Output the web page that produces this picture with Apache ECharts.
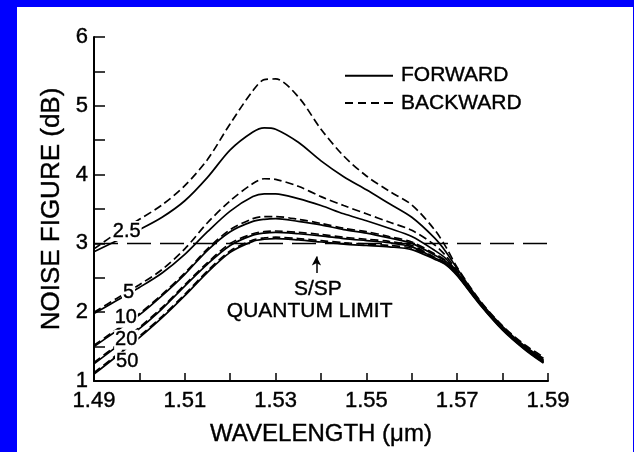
<!DOCTYPE html>
<html>
<head>
<meta charset="utf-8">
<script src="https://cdn.jsdelivr.net/npm/echarts@6/dist/echarts.min.js"></script>
<style>
  html, body { margin: 0; padding: 0; background: #0000ff; }
  #panel { position: absolute; left: 17px; top: 7px; width: 616px; height: 445px; background: #ffffff; }
  #main { position: absolute; left: 0; top: 0; width: 634px; height: 452px; }
</style>
</head>
<body>
<div id="panel"></div>
<div id="main"></div>
<script>
// wavelength samples (um)
var wavelength = [1.49, 1.495, 1.50, 1.505, 1.51, 1.515, 1.52, 1.525, 1.5275, 1.53, 1.535, 1.54,
    1.545, 1.55, 1.555, 1.56, 1.565, 1.5675, 1.57, 1.575, 1.58, 1.585, 1.589];

// noise figure (dB), per pump power, backward / forward
var bwd2_5 = [2.92, 3.15, 3.35, 3.56, 3.84, 4.22, 4.74, 5.22, 5.38, 5.39, 5.13, 4.66, 4.27, 3.98, 3.76, 3.56, 3.2, 2.95, 2.65, 2.17, 1.8, 1.52, 1.35];
var fwd2_5 = [2.88, 3.04, 3.2, 3.38, 3.62, 3.96, 4.36, 4.62, 4.68, 4.66, 4.47, 4.2, 3.97, 3.78, 3.58, 3.38, 3.08, 2.88, 2.63, 2.16, 1.79, 1.5, 1.33];
var bwd5 = [2.0, 2.2, 2.4, 2.62, 2.92, 3.3, 3.62, 3.87, 3.94, 3.93, 3.83, 3.68, 3.55, 3.43, 3.31, 3.19, 2.98, 2.82, 2.6, 2.15, 1.78, 1.49, 1.32];
var fwd5 = [1.98, 2.17, 2.36, 2.57, 2.84, 3.17, 3.47, 3.68, 3.72, 3.72, 3.65, 3.55, 3.43, 3.33, 3.22, 3.1, 2.9, 2.78, 2.58, 2.14, 1.77, 1.49, 1.31];
var bwd10 = [1.52, 1.75, 1.98, 2.26, 2.57, 2.92, 3.2, 3.36, 3.39, 3.39, 3.35, 3.29, 3.22, 3.17, 3.1, 3.02, 2.85, 2.75, 2.57, 2.14, 1.77, 1.48, 1.3];
var fwd10 = [1.5, 1.73, 1.96, 2.24, 2.55, 2.9, 3.17, 3.32, 3.35, 3.36, 3.32, 3.27, 3.2, 3.15, 3.08, 3.0, 2.83, 2.74, 2.56, 2.13, 1.76, 1.47, 1.29];
var bwd20 = [1.27, 1.52, 1.78, 2.07, 2.4, 2.72, 3.0, 3.14, 3.17, 3.18, 3.16, 3.13, 3.09, 3.06, 3.03, 2.97, 2.8, 2.72, 2.55, 2.13, 1.76, 1.47, 1.28];
var fwd20 = [1.25, 1.5, 1.76, 2.05, 2.38, 2.7, 2.97, 3.12, 3.15, 3.16, 3.14, 3.11, 3.07, 3.04, 3.01, 2.95, 2.79, 2.71, 2.54, 2.12, 1.75, 1.46, 1.27];
var bwd50 = [1.12, 1.38, 1.65, 1.94, 2.26, 2.6, 2.89, 3.05, 3.08, 3.09, 3.07, 3.04, 3.01, 2.99, 2.97, 2.93, 2.78, 2.7, 2.54, 2.12, 1.75, 1.46, 1.27];
var fwd50 = [1.1, 1.36, 1.63, 1.92, 2.24, 2.58, 2.87, 3.03, 3.06, 3.07, 3.05, 3.02, 2.99, 2.97, 2.95, 2.91, 2.77, 2.69, 2.53, 2.11, 1.74, 1.45, 1.26];

var quantumLimit = 3.0;
var pumpLabels = ['2.5', '5', '10', '20', '50'];

var FONT = '"Liberation Sans", Arial, Helvetica, sans-serif';
// a hairline outline makes the text a little heavier, like the scanned figure
var INK = { color: '#000', fontFamily: FONT, textBorderColor: '#000', textBorderWidth: 0.4 };

function ink(size) {
    return Object.assign({ fontSize: size }, INK);
}

function pairs(vals) {
    return wavelength.map(function (w, i) { return [w, vals[i]]; });
}

function curve(name, vals, dashed) {
    return {
        name: name,
        type: 'line',
        data: pairs(vals),
        smooth: 0.3,
        showSymbol: false,
        symbol: 'none',
        silent: true,
        z: 3,
        lineStyle: { color: '#000', width: 1.7, type: dashed ? [8, 4] : 'solid' }
    };
}

var chart = echarts.init(document.getElementById('main'));

var series = [
    // legend only
    { name: 'FORWARD', type: 'line', data: [], symbol: 'none', itemStyle: { color: '#000' } },
    { name: 'BACKWARD', type: 'line', data: [], symbol: 'none', itemStyle: { color: '#000' } },

    curve('b2.5', bwd2_5, true),
    curve('f2.5', fwd2_5, false),
    curve('b5', bwd5, true),
    curve('f5', fwd5, false),
    curve('b10', bwd10, true),
    curve('f10', fwd10, false),
    curve('b20', bwd20, true),
    curve('f20', fwd20, false),
    curve('b50', bwd50, true),
    curve('f50', fwd50, false),

    // quantum limit line + arrow
    {
        name: 'limit',
        type: 'line',
        data: [[1.49, quantumLimit], [1.59, quantumLimit]],
        symbol: 'none',
        silent: true,
        z: 2,
        lineStyle: { color: '#000', width: 1.5, type: [24, 9] },
        markLine: {
            silent: true,
            symbol: ['none', 'arrow'],
            symbolSize: [7, 9],
            label: { show: false },
            lineStyle: { color: '#000', width: 1.5, type: 'solid' },
            data: [[{ coord: [1.539, 2.57] }, { coord: [1.539, 2.81] }]]
        }
    },
    {
        name: 'labels',
        type: 'scatter',
        symbolSize: 1,
        silent: true,
        z: 10,
        itemStyle: { opacity: 1, color: 'transparent' },
        label: Object.assign({
            show: true,
            position: 'inside',
            formatter: function (p) { return p.data.text; },
            backgroundColor: '#fff',
            padding: [0, 1]
        }, ink(20)),
        data: [
            { value: [1.4972, 3.18], text: pumpLabels[0] },
            { value: [1.4976, 2.28], text: pumpLabels[1] },
            { value: [1.4970, 1.92], text: pumpLabels[2] },
            { value: [1.4971, 1.6], text: pumpLabels[3] },
            { value: [1.4973, 1.28], text: pumpLabels[4] },
            { value: [1.5393, 2.34], text: 'S/SP', label: { backgroundColor: 'transparent', fontSize: 21 } },
            { value: [1.5375, 2.02], text: 'QUANTUM LIMIT', label: { backgroundColor: 'transparent', fontSize: 21 } }
        ]
    }
];

var option = {
    animation: false,
    backgroundColor: 'transparent',
    textStyle: { fontFamily: FONT },
    legend: {
        data: [
            { name: 'FORWARD', icon: 'path://M0,0h48v2h-48z' },
            { name: 'BACKWARD', icon: 'path://M0,0h8v2h-8zM13,0h8v2h-8zM26,0h8v2h-8zM39,0h9v2h-9z' }
        ],
        orient: 'vertical',
        left: 340,
        top: 60,
        itemWidth: 48,
        itemHeight: 2,
        itemGap: 6,
        textStyle: Object.assign({ padding: [0, 0, 0, 3] }, ink(21)),
        selectedMode: false
    },
    grid: { left: 94, right: 86, top: 37, bottom: 71, containLabel: false },
    xAxis: {
        type: 'value',
        min: 1.49,
        max: 1.59,
        interval: 0.01,
        name: 'WAVELENGTH (\u03bcm)',
        nameLocation: 'middle',
        nameGap: 41,
        nameTextStyle: ink(24),
        axisLine: { lineStyle: { color: '#000', width: 2 } },
        axisTick: { inside: true, length: 8, lineStyle: { color: '#000', width: 1.5 } },
        axisLabel: Object.assign({
            margin: 9,
            formatter: function (v) {
                var k = Math.round(v * 100);
                return k % 2 === 1 ? (k / 100).toFixed(2) : '';
            }
        }, ink(22)),
        splitLine: { show: false }
    },
    yAxis: {
        type: 'value',
        min: 1,
        max: 6,
        interval: 0.5,
        name: 'NOISE FIGURE (dB)',
        nameLocation: 'middle',
        nameGap: 26,
        nameTextStyle: ink(26),
        axisLine: { show: true, lineStyle: { color: '#000', width: 2 } },
        axisTick: { show: true, inside: true, length: 11, lineStyle: { color: '#000', width: 1.5 } },
        axisLabel: Object.assign({
            margin: 6,
            formatter: function (v) {
                return Math.abs(v - Math.round(v)) < 1e-6 ? String(Math.round(v)) : '';
            }
        }, ink(22)),
        splitLine: { show: false }
    },
    series: series
};

chart.setOption(option);
</script>
</body>
</html>
